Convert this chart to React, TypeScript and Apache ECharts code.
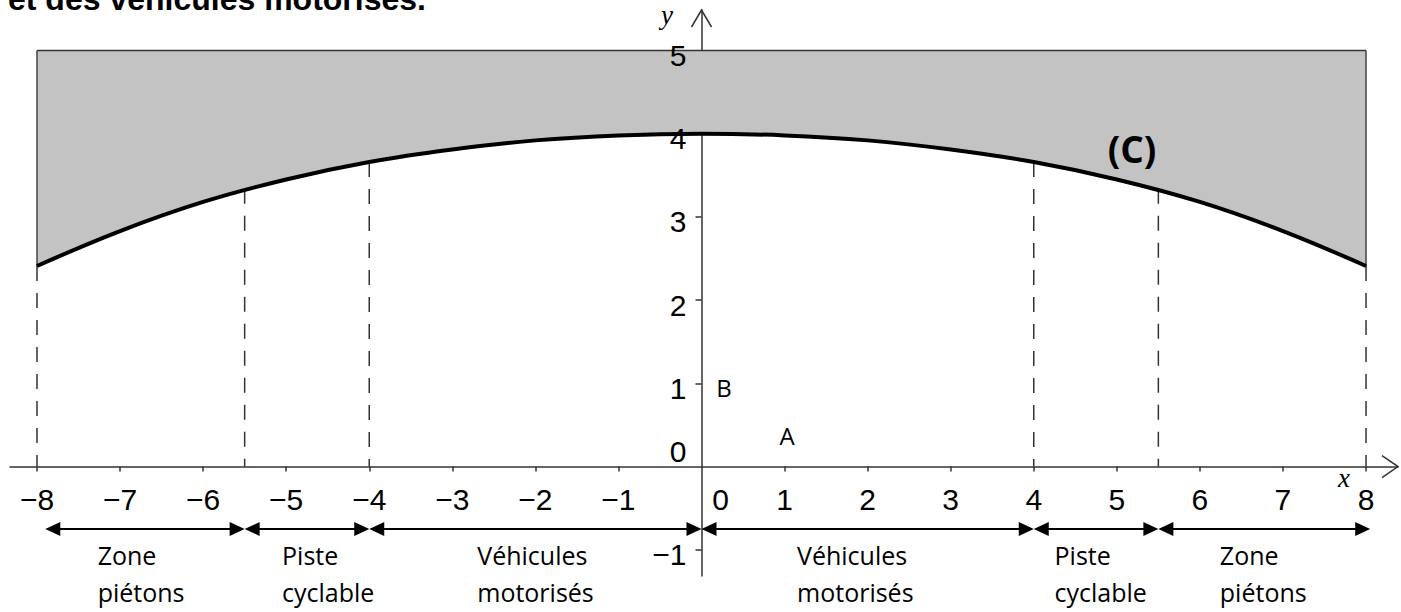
import React, { useEffect, useRef } from 'react';
import * as echarts from 'echarts';

// ---- Data ----
const curveX = [-8, -7, -6, -5, -4, -3, -2, -1, 0, 1, 2, 3, 4, 5, 6, 7, 8];
const curveY = [2.41, 2.83, 3.18, 3.45, 3.66, 3.81, 3.92, 3.98, 4.0, 3.98, 3.92, 3.81, 3.66, 3.45, 3.18, 2.83, 2.41];
const bandTop = 5;
const dashX = [-8, -5.5, -4, 4, 5.5, 8];
const dashTop = [2.41, 3.34, 3.66, 3.66, 3.34, 2.41];
const zoneStart = [-7.9, -5.5, -4, 0, 4, 5.5];
const zoneEnd = [-5.5, -4, 0, 4, 5.5, 8.05];
const zoneLine1 = ['Zone', 'Piste', 'Véhicules', 'Véhicules', 'Piste', 'Zone'];
const zoneLine2 = ['piétons', 'cyclable', 'motorisés', 'motorisés', 'cyclable', 'piétons'];
const zoneLabelX = [-7.27, -5.05, -2.7, 1.15, 4.25, 6.24];
const xTicks = [-8, -7, -6, -5, -4, -3, -2, -1, 1, 2, 3, 4, 5, 6, 7, 8];
const yTicks = [-1, 1, 2, 3, 4, 5];
const pointNames = ['A', 'B'];
const pointX = [1.03, 0.27];
const pointY = [0.367, 0.944];
const titleText = 'et des véhicules motorisés.';

// axis extents
const X_MIN = -8.325;
const X_MAX = 8.385;
const Y_MIN = -1.316;
const Y_MAX = 5.487;
const ARROW_Y = -0.751;
const ZONE_LABEL_Y = -1.29;

const fmt = (v: number) => (v < 0 ? '\u2212' + Math.abs(v) : String(v));

export default function App() {
  const ref = useRef<HTMLDivElement>(null);
  useEffect(() => {
    if (!ref.current) return;
    const chart = echarts.init(ref.current, undefined, { renderer: 'svg' });

    const numStyle = { fill: '#000', fontFamily: 'Liberation Sans', fontSize: 30, verticalAlign: 'middle' };

    const renderItem = (params: any, api: any) => {
      const c = (x: number, y: number) => api.coord([x, y]);
      const children: any[] = [];
      // grey band between curve and y=5
      const poly: number[][] = curveX.map((x, i) => c(x, curveY[i]));
      poly.push(c(curveX[curveX.length - 1], bandTop));
      poly.push(c(curveX[0], bandTop));
      children.push({ type: 'polygon', shape: { points: poly }, style: { fill: '#c3c3c3', stroke: null } });
      // band borders
      const tl = c(curveX[0], bandTop), tr = c(curveX[curveX.length - 1], bandTop);
      children.push({ type: 'line', shape: { x1: tl[0], y1: tl[1], x2: tr[0], y2: tr[1] }, style: { stroke: '#333', lineWidth: 1.5 } });
      [0, curveX.length - 1].forEach((i) => {
        const a = c(curveX[i], bandTop), b = c(curveX[i], curveY[i]);
        children.push({ type: 'line', shape: { x1: a[0], y1: a[1], x2: b[0], y2: b[1] }, style: { stroke: '#444', lineWidth: 1.5 } });
      });
      // dashed verticals
      dashX.forEach((x, i) => {
        const a = c(x, dashTop[i]), b = c(x, 0);
        children.push({ type: 'line', shape: { x1: a[0], y1: a[1], x2: b[0], y2: b[1] }, style: { stroke: '#333', lineWidth: 1.5, lineDash: [15, 12] } });
      });
      // double arrows + zone labels
      zoneStart.forEach((s, i) => {
        const a = c(s, ARROW_Y), b = c(zoneEnd[i], ARROW_Y);
        const L = 15, H = 7;
        children.push({ type: 'line', shape: { x1: a[0] + 4, y1: a[1], x2: b[0] - 4, y2: b[1] }, style: { stroke: '#000', lineWidth: 2 } });
        children.push({ type: 'polygon', shape: { points: [[a[0], a[1]], [a[0] + L, a[1] - H], [a[0] + L, a[1] + H]] }, style: { fill: '#000' } });
        children.push({ type: 'polygon', shape: { points: [[b[0], b[1]], [b[0] - L, b[1] - H], [b[0] - L, b[1] + H]] }, style: { fill: '#000' } });
        const t = c(zoneLabelX[i], ZONE_LABEL_Y);
        children.push({
          type: 'text', x: t[0], y: t[1],
          style: { text: zoneLine1[i] + '\n' + zoneLine2[i], fill: '#000', fontFamily: 'Open Sans', fontSize: 25, lineHeight: 37, align: 'left', verticalAlign: 'middle' },
        });
      });
      // tick labels
      xTicks.forEach((v) => {
        const p = c(v, 0);
        children.push({ type: 'text', x: p[0], y: p[1] + 32.5, style: { ...numStyle, text: fmt(v), align: 'center' } });
      });
      yTicks.forEach((v) => {
        const p = c(0, v);
        children.push({ type: 'text', x: p[0] - 15, y: p[1] + 5, style: { ...numStyle, text: fmt(v), align: 'right' } });
      });
      const z1 = c(0, 0);
      children.push({ type: 'text', x: z1[0] + 19, y: z1[1] + 32.5, style: { ...numStyle, text: '0', align: 'center' } });
      children.push({ type: 'text', x: z1[0] - 15, y: z1[1] - 15, style: { ...numStyle, text: '0', align: 'right' } });
      // axis arrow heads (open chevrons)
      const xt = c(X_MAX, 0);
      children.push({ type: 'polyline', shape: { points: [[xt[0] - 16, xt[1] - 11], [xt[0], xt[1]], [xt[0] - 16, xt[1] + 11]] }, style: { stroke: '#333', lineWidth: 1.5, fill: null } });
      const yt = c(0, Y_MAX);
      children.push({ type: 'polyline', shape: { points: [[yt[0] - 10, yt[1] + 17], [yt[0], yt[1]], [yt[0] + 10, yt[1] + 17]] }, style: { stroke: '#333', lineWidth: 1.5, fill: null } });
      // axis names
      const xn = c(7.734, -0.138);
      children.push({ type: 'text', x: xn[0], y: xn[1], style: { text: 'x', fill: '#000', fontFamily: 'Liberation Serif', fontStyle: 'italic', fontSize: 27, align: 'center', verticalAlign: 'middle' } });
      const yn = c(-0.415, 5.427);
      children.push({ type: 'text', x: yn[0], y: yn[1], style: { text: 'y', fill: '#000', fontFamily: 'Liberation Serif', fontStyle: 'italic', fontSize: 27, align: 'center', verticalAlign: 'middle' } });
      // points A, B
      pointNames.forEach((n, i) => {
        const p = c(pointX[i], pointY[i]);
        children.push({ type: 'text', x: p[0], y: p[1], style: { text: n, fill: '#000', fontFamily: 'Open Sans', fontSize: 24, align: 'center', verticalAlign: 'middle' } });
      });
      // curve name
      const cn = c(5.183, 3.82);
      children.push({ type: 'text', x: cn[0], y: cn[1], style: { text: '(C)', fill: '#000', fontFamily: 'Open Sans', fontWeight: 'bold', fontSize: 37, align: 'center', verticalAlign: 'middle' } });
      return { type: 'group', children };
    };

    chart.setOption({
      animation: false,
      backgroundColor: '#fff',
      title: {
        text: titleText, left: 8, top: -17, padding: 0,
        textStyle: { fontFamily: 'Liberation Sans', fontWeight: 'bold', fontSize: 32, color: '#000' },
      },
      grid: { left: 10, right: 3, top: 10, bottom: 36, containLabel: false, outerBoundsMode: 'none' },
      xAxis: {
        type: 'value', min: X_MIN, max: X_MAX,
        axisLine: { show: true, onZero: true, lineStyle: { color: '#333', width: 1.5 } },
        axisTick: { show: true, length: 5, customValues: xTicks, lineStyle: { color: '#333', width: 1.5 } },
        axisLabel: { show: false },
        splitLine: { show: false },
      },
      yAxis: {
        type: 'value', min: Y_MIN, max: Y_MAX,
        axisLine: { show: true, onZero: true, lineStyle: { color: '#333', width: 1.5 } },
        axisTick: { show: true, length: 6, customValues: yTicks, lineStyle: { color: '#333', width: 1.5 } },
        axisLabel: { show: false },
        splitLine: { show: false },
      },
      series: [
        {
          type: 'custom', renderItem, data: [[0, 0]], clip: false, silent: true, z: 1,
        },
        {
          type: 'line', data: curveX.map((x, i) => [x, curveY[i]]), smooth: 0.4, showSymbol: false, silent: true, z: 3,
          lineStyle: { color: '#000', width: 4 },
        },
      ],
    });
    return () => chart.dispose();
  }, []);
  return <div ref={ref} style={{ position: 'fixed', left: 0, top: 0, width: 1401, height: 612 }} />;
}
